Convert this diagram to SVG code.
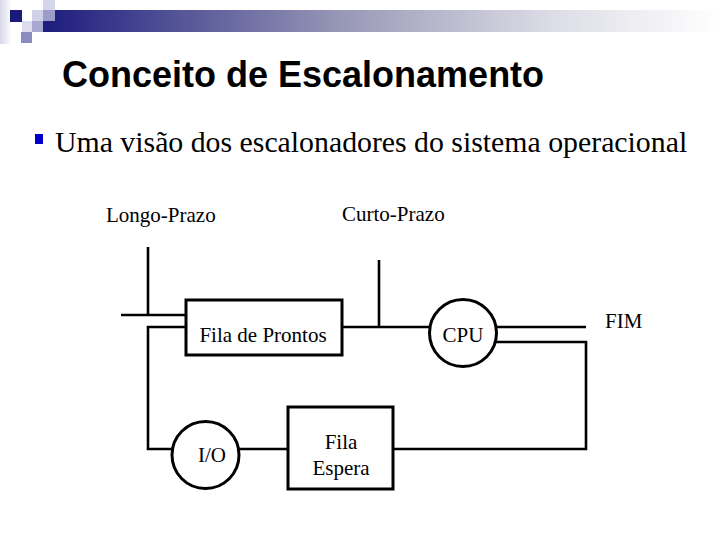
<svg xmlns="http://www.w3.org/2000/svg" width="720" height="540" viewBox="0 0 720 540">
<defs>
<linearGradient id="bar" x1="0" y1="0" x2="1" y2="0">
<stop offset="0" stop-color="#1c1c7e"/>
<stop offset="0.45" stop-color="#9a9ab8"/>
<stop offset="0.75" stop-color="#dcdce6"/>
<stop offset="1" stop-color="#ffffff"/>
</linearGradient>
<linearGradient id="side" x1="0" y1="0" x2="1" y2="0">
<stop offset="0" stop-color="#d8d8ea"/>
<stop offset="1" stop-color="#ffffff"/>
</linearGradient>
<style>
.ln{fill:none;stroke:#000;stroke-width:2.6}
.bx{fill:#fff;stroke:#000;stroke-width:3}
.t{font-family:"Liberation Serif","Times New Roman",serif;font-size:21px;fill:#000}
</style>
</defs>
<rect width="720" height="540" fill="#fff"/>
<g id="header">
<rect x="0" y="0" width="12" height="44" fill="url(#side)"/>
<rect x="43" y="10" width="677" height="22" fill="url(#bar)"/>
<rect x="10" y="10" width="12" height="12" fill="#1a1a7a"/>
<rect x="32" y="10" width="11" height="11" fill="#d0d0e6"/>
<rect x="43" y="0" width="12" height="10" fill="#d6d6ea"/>
<rect x="43" y="10" width="12" height="11" fill="#9c9cc8"/>
<rect x="22" y="21" width="10" height="11" fill="#dcdcee"/>
<rect x="32" y="21" width="11" height="11" fill="#a8a8d0"/>
<rect x="21" y="32" width="11" height="11" fill="#8c8cc0"/>
</g>
<text x="62" y="87" font-family="Liberation Sans, Arial, sans-serif" font-size="36" font-weight="bold" fill="#000">Conceito de Escalonamento</text>
<rect x="35" y="134" width="8" height="10" fill="#0000cc"/>
<text x="55" y="152" font-family="Liberation Serif, 'Times New Roman', serif" font-size="29.8" fill="#000">Uma visão dos escalonadores do sistema operacional</text>
<g id="connectors">
<path class="ln" d="M148 247V315M121 315H186"/>
<path class="ln" d="M186 327H148V449H172"/>
<path class="ln" d="M379 260V327M342 327H430"/>
<path class="ln" d="M496 327H586"/>
<path class="ln" d="M495 342H586V449H393"/>
<path class="ln" d="M239 449H288"/>
</g>
<g id="longo"><text class="t" x="106" y="222">Longo-Prazo</text></g>
<g id="curto"><text class="t" x="342" y="221">Curto-Prazo</text></g>
<g id="fim"><text class="t" x="605" y="328">FIM</text></g>
<g id="fila-prontos">
<rect class="bx" x="186" y="300" width="156" height="55"/>
<text class="t" x="263" y="342" text-anchor="middle">Fila de Prontos</text>
</g>
<g id="cpu">
<circle class="bx" cx="463" cy="333" r="33.5"/>
<text class="t" x="463" y="342" text-anchor="middle">CPU</text>
</g>
<g id="io">
<circle class="bx" cx="205.5" cy="455" r="33.5"/>
<text class="t" x="212" y="462" text-anchor="middle">I/O</text>
</g>
<g id="fila-espera">
<rect class="bx" x="288" y="407" width="105" height="82"/>
<text class="t" x="341" y="449" text-anchor="middle">Fila</text>
<text class="t" x="341" y="475" text-anchor="middle">Espera</text>
</g>
</svg>
